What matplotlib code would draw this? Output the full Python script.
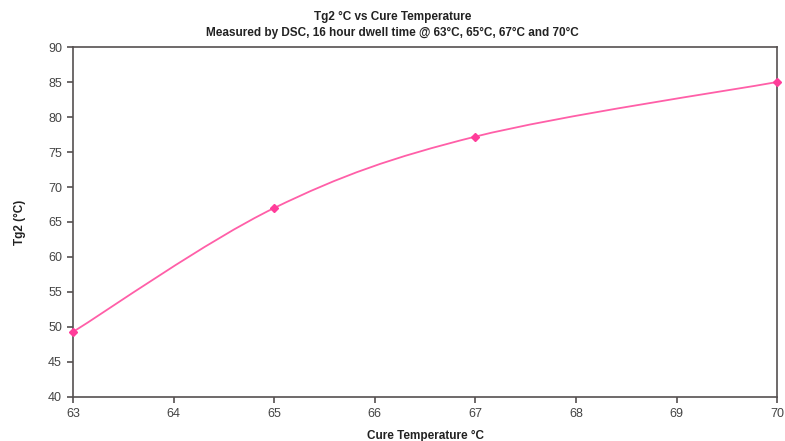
import matplotlib.pyplot as plt
from matplotlib.path import Path
from matplotlib.patches import PathPatch

plt.rcParams['font.family'] = ['Liberation Sans', 'DejaVu Sans']

# data
cure_temp = [63, 65, 67, 70]
tg2 = [49.3, 67.0, 77.2, 85.0]

fig = plt.figure(figsize=(7.85, 4.41), dpi=100)
ax = fig.add_axes([0.093, 0.0998, 0.897, 0.7936])

# Excel-style smoothed line: cubic bezier through the points
verts = [(cure_temp[0], tg2[0])]
codes = [Path.MOVETO]
n = len(cure_temp)
for i in range(n - 1):
    x0, y0 = cure_temp[max(i - 1, 0)], tg2[max(i - 1, 0)]
    x1, y1 = cure_temp[i], tg2[i]
    x2, y2 = cure_temp[i + 1], tg2[i + 1]
    x3, y3 = cure_temp[min(i + 2, n - 1)], tg2[min(i + 2, n - 1)]
    c1 = (x1 + (x2 - x0) / 6, y1 + (y2 - y0) / 6)
    c2 = (x2 - (x3 - x1) / 6, y2 - (y3 - y1) / 6)
    verts += [c1, c2, (x2, y2)]
    codes += [Path.CURVE4] * 3
ax.add_patch(PathPatch(Path(verts, codes), facecolor='none', edgecolor='#ff5fa8', lw=1.3, clip_on=False))
ax.plot(cure_temp, tg2, linestyle='none', marker='D', ms=4.5, color='#ff3d9a', clip_on=False, zorder=5)

ax.set_xlim(63, 70)
ax.set_ylim(40, 90)
ax.set_yticks(range(40, 91, 5))
ax.set_xticks(range(63, 71))
for s in ax.spines.values():
    s.set_color('#555050')
    s.set_linewidth(1.2)
ax.tick_params(direction='out', length=4, width=1.2, color='#555050', labelsize=9, labelcolor='#444444', pad=4)

fig.text(0.5, 0.955, 'Tg2 °C vs Cure Temperature', ha='center', fontsize=8.5, fontweight='bold', color='#222222')
fig.text(0.5, 0.918, 'Measured by DSC, 16 hour dwell time @ 63°C, 65°C, 67°C and 70°C', ha='center', fontsize=8.5, fontweight='bold', color='#222222')
ax.set_ylabel('Tg2 (°C)', fontsize=8.5, fontweight='bold', color='#222222', labelpad=16)
ax.set_xlabel('Cure Temperature °C', fontsize=8.5, fontweight='bold', color='#222222', labelpad=7)

fig.savefig('out.png', dpi=100)
